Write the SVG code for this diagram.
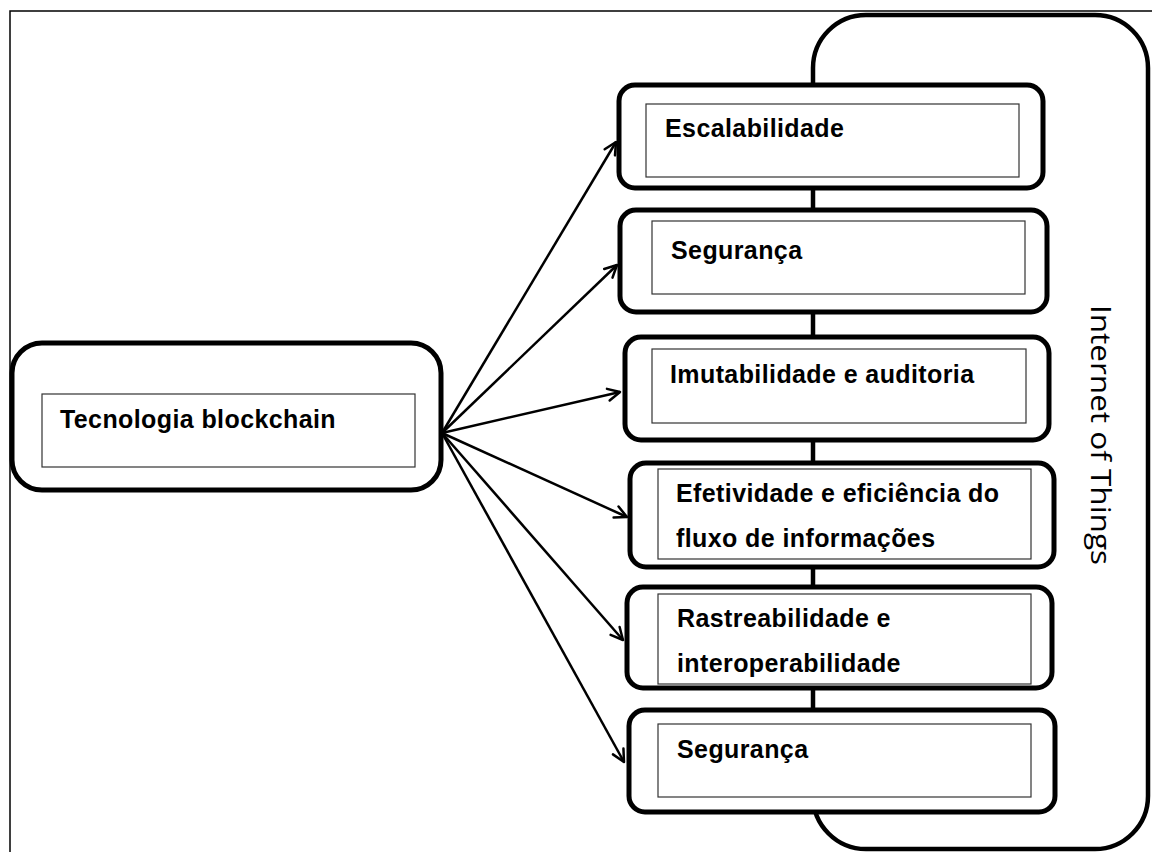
<svg xmlns="http://www.w3.org/2000/svg" width="1152" height="852" viewBox="0 0 1152 852">
  <style>
    .frame { fill: none; stroke: #000; stroke-width: 1.5; }
    .box { fill: #fff; stroke: #000; stroke-width: 5; }
    .iot { fill: #fff; stroke: #000; stroke-width: 4.5; }
    .inner { fill: #fff; stroke: #333; stroke-width: 1.2; }
    .label { font-family: "Liberation Sans", Arial, sans-serif; font-weight: bold; font-size: 25px; letter-spacing: 0.4px; fill: #000; }
    .side { font-family: "Open Sans", "Noto Sans", sans-serif; font-size: 28px; fill: #000; }
    .link { fill: none; stroke: #000; stroke-width: 2.5; marker-end: url(#arrow); }
  </style>
  <defs>
    <marker id="arrow" markerUnits="userSpaceOnUse" markerWidth="16" markerHeight="16" viewBox="0 0 16 16" refX="14" refY="8" orient="auto">
      <path d="M2,2 L14,8 L2,14" fill="none" stroke="#000" stroke-width="2.5" stroke-linecap="round" stroke-linejoin="round"/>
    </marker>
  </defs>

  <rect width="1152" height="852" fill="#fff"/>
  <!-- page frame (right and bottom edges fall outside the canvas) -->
  <rect class="frame" x="10" y="11" width="1160" height="860"/>

  <!-- Internet of Things container -->
  <g id="iot">
    <rect class="iot" x="813" y="15" width="335" height="834" rx="53" ry="53"/>
    <text class="side" transform="translate(1091,305) rotate(90)" textLength="260" lengthAdjust="spacingAndGlyphs">Internet of Things</text>
  </g>

  <!-- connectors -->
  <g id="connectors">
    <line class="link" x1="442" y1="433" x2="616" y2="142"/>
    <line class="link" x1="442" y1="433" x2="617" y2="265"/>
    <line class="link" x1="442" y1="433" x2="620" y2="392"/>
    <line class="link" x1="442" y1="433" x2="627" y2="517"/>
    <line class="link" x1="442" y1="433" x2="623" y2="640"/>
    <line class="link" x1="442" y1="433" x2="624" y2="762"/>
  </g>

  <g id="blockchain">
    <rect class="box" x="12" y="343" width="429" height="147" rx="30" ry="30"/>
    <rect class="inner" x="42" y="394" width="373" height="73"/>
    <text class="label" x="60" y="428">Tecnologia blockchain</text>
  </g>

  <g id="escalabilidade">
    <rect class="box" x="619" y="85" width="424" height="103" rx="16" ry="16"/>
    <rect class="inner" x="646" y="104" width="373" height="73"/>
    <text class="label" x="665" y="137">Escalabilidade</text>
  </g>

  <g id="seguranca1">
    <rect class="box" x="620" y="210" width="427" height="102" rx="16" ry="16"/>
    <rect class="inner" x="652" y="221" width="373" height="73"/>
    <text class="label" x="671" y="259">Segurança</text>
  </g>

  <g id="imutabilidade">
    <rect class="box" x="625" y="337" width="424" height="103" rx="16" ry="16"/>
    <rect class="inner" x="652" y="349" width="374" height="74"/>
    <text class="label" x="670" y="383">Imutabilidade e auditoria</text>
  </g>

  <g id="efetividade">
    <rect class="box" x="630" y="463" width="424" height="104" rx="16" ry="16"/>
    <rect class="inner" x="658" y="469" width="373" height="90"/>
    <text class="label" x="676" y="502">Efetividade e eficiência do</text>
    <text class="label" x="676" y="547">fluxo de informações</text>
  </g>

  <g id="rastreabilidade">
    <rect class="box" x="627" y="587" width="425" height="101" rx="16" ry="16"/>
    <rect class="inner" x="658" y="594" width="373" height="90"/>
    <text class="label" x="677" y="627">Rastreabilidade e</text>
    <text class="label" x="677" y="672">interoperabilidade</text>
  </g>

  <g id="seguranca2">
    <rect class="box" x="629" y="710" width="426" height="102" rx="16" ry="16"/>
    <rect class="inner" x="658" y="724" width="373" height="73"/>
    <text class="label" x="677" y="758">Segurança</text>
  </g>
</svg>
